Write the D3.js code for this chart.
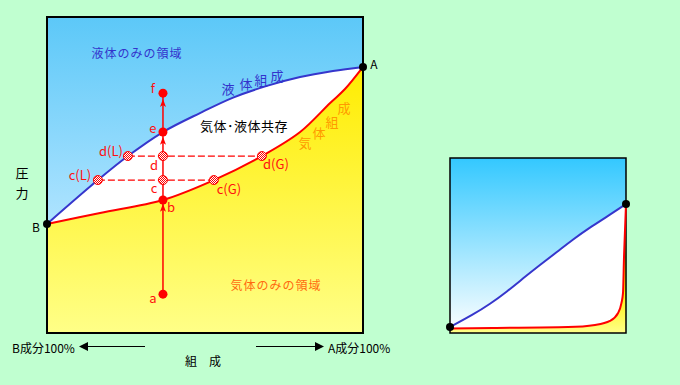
<!DOCTYPE html>
<meta charset="utf-8">
<svg id="chart" width="680" height="385"></svg>
<script src="https://d3js.org/d3.v7.min.js"></script>
<style>
  body { margin: 0; background: #c0ffd0; }
  svg { display: block; font-family: "Noto Sans CJK JP", "Noto Sans", sans-serif; }
</style>
<script>
// composition: 0 = B 100%, 1 = A 100% / pressure: 0 .. 1
var liquidComp = [0, 0.161, 0.256, 0.367, 0.484, 0.589, 0.696, 0.801, 0.905, 1];
var liquidPres = [0.345, 0.484, 0.560, 0.636, 0.696, 0.745, 0.782, 0.810, 0.829, 0.842];
var gasComp = [0, 0.168, 0.367, 0.528, 0.680, 0.801, 0.896, 0.943, 1];
var gasPres = [0.345, 0.380, 0.421, 0.484, 0.560, 0.636, 0.728, 0.772, 0.842];

// vertical compression path a -> f at fixed composition
var pathComp = 0.367;
var pathNames = ["a", "b", "c", "d", "e", "f"];
var pathPres = [0.123, 0.421, 0.484, 0.560, 0.636, 0.759];
var arrowPres = [0.396, 0.608, 0.728];

// tie lines at c and d
var tieNames = ["c", "d"];
var tiePres = [0.484, 0.560];
var tieLiq = [0.161, 0.256];
var tieGas = [0.528, 0.680];

// small chart
var smallLiqComp = [0, 0.131, 0.227, 0.324, 0.415, 0.511, 0.608, 0.699, 0.795, 0.892, 1];
var smallLiqPres = [0.034, 0.105, 0.165, 0.237, 0.312, 0.389, 0.463, 0.535, 0.603, 0.665, 0.737];
var smallGasComp = [0, 0.244, 0.670, 0.824, 0.909, 0.955, 0.974, 0.983, 0.989, 1];
var smallGasPres = [0.026, 0.029, 0.034, 0.046, 0.069, 0.114, 0.171, 0.229, 0.446, 0.737];

var svg = d3.select("#chart");
var defs = svg.append("defs");

function vGrad(id, y1, y2, c1, c2) {
  var g = defs.append("linearGradient").attr("id", id)
    .attr("gradientUnits", "userSpaceOnUse")
    .attr("x1", 0).attr("x2", 0).attr("y1", y1).attr("y2", y2);
  g.append("stop").attr("offset", 0).attr("stop-color", c1);
  g.append("stop").attr("offset", 1).attr("stop-color", c2);
}
vGrad("sky", 17, 226, "#5cc8f8", "#b0e4ff");
vGrad("sun", 67, 333, "#ffec00", "#ffff88");
vGrad("sky2", 158, 333, "#33c8ff", "#ffffff");
vGrad("sun2", 290, 333, "#ffee00", "#ffff88");

var pat = defs.append("pattern").attr("id", "check")
  .attr("patternUnits", "userSpaceOnUse").attr("width", 2).attr("height", 2);
pat.append("rect").attr("width", 2).attr("height", 2).attr("fill", "#fff");
pat.append("rect").attr("width", 1).attr("height", 1).attr("fill", "#ff0000");
pat.append("rect").attr("x", 1).attr("y", 1).attr("width", 1).attr("height", 1).attr("fill", "#ff0000");

// ---------- main chart ----------
var x = d3.scaleLinear().domain([0, 1]).range([47, 363]);
var y = d3.scaleLinear().domain([0, 1]).range([333, 17]);

var liquid = liquidComp.map(function(c, i) { return [c, liquidPres[i]]; });
var gas = gasComp.map(function(c, i) { return [c, gasPres[i]]; });

var g = svg.append("g");
g.append("rect").attr("x", x(0)).attr("y", y(1))
  .attr("width", x(1) - x(0)).attr("height", y(0) - y(1)).attr("fill", "url(#sky)");

var area = d3.area().x(function(d) { return x(d[0]); })
  .y0(y(0)).y1(function(d) { return y(d[1]); }).curve(d3.curveCatmullRom);
var line = d3.line().x(function(d) { return x(d[0]); })
  .y(function(d) { return y(d[1]); }).curve(d3.curveCatmullRom);

g.append("path").attr("d", area(liquid)).attr("fill", "#fff");
g.append("path").attr("d", area(gas)).attr("fill", "url(#sun)");
g.append("rect").attr("x", x(0)).attr("y", y(1))
  .attr("width", x(1) - x(0)).attr("height", y(0) - y(1))
  .attr("fill", "none").attr("stroke", "#000").attr("stroke-width", 2);

g.append("path").attr("d", line(liquid)).attr("fill", "none")
  .attr("stroke", "#3636cc").attr("stroke-width", 2);
g.append("path").attr("d", line(gas)).attr("fill", "none")
  .attr("stroke", "#ff0000").attr("stroke-width", 2);

// tie lines
tieNames.forEach(function(n, i) {
  g.append("line").attr("x1", x(tieLiq[i])).attr("x2", x(tieGas[i]))
    .attr("y1", y(tiePres[i])).attr("y2", y(tiePres[i]))
    .attr("stroke", "#ff0000").attr("stroke-width", 1.2).attr("stroke-dasharray", "7,3");
});

// vertical path
g.append("line").attr("x1", x(pathComp)).attr("x2", x(pathComp))
  .attr("y1", y(pathPres[0])).attr("y2", y(pathPres[pathPres.length - 1]))
  .attr("stroke", "#ff0000").attr("stroke-width", 1.5);
arrowPres.forEach(function(p) {
  g.append("path").attr("d", "M0,-4L3,4L0,2L-3,4Z")
    .attr("transform", "translate(" + x(pathComp) + "," + y(p) + ")")
    .attr("fill", "#ff0000");
});

// markers
var hatched = [];
tieNames.forEach(function(n, i) {
  hatched.push([tieLiq[i], tiePres[i]], [pathComp, tiePres[i]], [tieGas[i], tiePres[i]]);
});
pathNames.forEach(function(n, i) {
  if (tieNames.indexOf(n) < 0) {
    g.append("circle").attr("cx", x(pathComp)).attr("cy", y(pathPres[i]))
      .attr("r", 4.5).attr("fill", "#ff0000");
  }
});
hatched.forEach(function(d) {
  g.append("circle").attr("cx", x(d[0])).attr("cy", y(d[1])).attr("r", 4.5)
    .attr("fill", "url(#check)").attr("stroke", "#ff0000").attr("stroke-width", 1);
});
[liquid[0], liquid[liquid.length - 1]].forEach(function(d) {
  g.append("circle").attr("cx", x(d[0])).attr("cy", y(d[1])).attr("r", 4).attr("fill", "#000");
});

// labels
function label(t, px, py, col, anchor, size, ls) {
  return svg.append("text").attr("x", px).attr("y", py).text(t)
    .attr("fill", col).attr("text-anchor", anchor || "middle")
    .attr("dominant-baseline", "central")
    .style("font-size", (size || 12) + "px")
    .style("letter-spacing", (ls || 0) + "px");
}
var red = "#ff1010";
var px0 = x(pathComp);
label("f", px0 - 10, y(pathPres[5]) - 6, red, "middle", 13);
label("e", px0 - 10, y(pathPres[4]) - 5, red, "middle", 13);
label("d", px0 - 9, y(pathPres[3]) + 8, red, "middle", 13);
label("c", px0 - 9, y(pathPres[2]) + 7, red, "middle", 13);
label("b", px0 + 8, y(pathPres[1]) + 7, red, "middle", 13);
label("a", px0 - 10, y(pathPres[0]) + 3, red, "middle", 13);
label("d(L)", x(tieLiq[1]) - 17, y(tiePres[1]) - 6, red, "middle", 13);
label("c(L)", x(tieLiq[0]) - 18, y(tiePres[0]) - 6, red, "middle", 13);
label("d(G)", x(tieGas[1]) + 14, y(tiePres[1]) + 7, red, "middle", 13);
label("c(G)", x(tieGas[0]) + 15, y(tiePres[0]) + 8, red, "middle", 13);
label("A", x(1) + 11, y(liquidPres[liquidPres.length - 1]) - 3, "#000");
label("B", x(0) - 11, y(liquidPres[0]) + 3, "#000");

label("液体のみの領域", 137, 52, "#3333cc", "middle", 12, 1);
label("気体のみの領域", 276, 284, "#ff6a10", "middle", 12, 1);
label("気体･液体共存", 244, 125, "#000", "middle", 13, 0.5);
[["液", 228, 88], ["体", 246, 83], ["組", 261, 79], ["成", 277, 75]].forEach(function(c) {
  label(c[0], c[1], c[2], "#3333cc", "middle", 13);
});
[["気", 305, 142], ["体", 319, 132], ["組", 332, 121], ["成", 344, 107]].forEach(function(c) {
  label(c[0], c[1], c[2], "#ff9a00", "middle", 13);
});
label("圧", 22, 172, "#000", "middle", 13);
label("力", 22, 192, "#000", "middle", 13);
label("B成分100%", 12, 347, "#000", "start", 12, 0);
label("A成分100%", 328, 347, "#000", "start", 12, 0);
label("組　成", 203, 360, "#000", "middle", 12);

// composition arrows
svg.append("line").attr("x1", 145).attr("x2", 84).attr("y1", 346.5).attr("y2", 346.5)
  .attr("stroke", "#000").attr("stroke-width", 1);
svg.append("path").attr("d", "M79,346.5L88,342L88,351Z").attr("fill", "#000");
svg.append("line").attr("x1", 256).attr("x2", 318).attr("y1", 346.5).attr("y2", 346.5)
  .attr("stroke", "#000").attr("stroke-width", 1);
svg.append("path").attr("d", "M324,346.5L315,342L315,351Z").attr("fill", "#000");

// ---------- small chart ----------
var sx = d3.scaleLinear().domain([0, 1]).range([450, 626]);
var sy = d3.scaleLinear().domain([0, 1]).range([333, 158]);
var sLiq = smallLiqComp.map(function(c, i) { return [c, smallLiqPres[i]]; });
var sGas = smallGasComp.map(function(c, i) { return [c, smallGasPres[i]]; });
var sArea = d3.area().x(function(d) { return sx(d[0]); })
  .y0(sy(0)).y1(function(d) { return sy(d[1]); });
var sLine = d3.line().x(function(d) { return sx(d[0]); })
  .y(function(d) { return sy(d[1]); });

var s = svg.append("g");
s.append("rect").attr("x", sx(0)).attr("y", sy(1))
  .attr("width", sx(1) - sx(0)).attr("height", sy(0) - sy(1)).attr("fill", "url(#sky2)");
s.append("path").attr("d", sArea.curve(d3.curveBasis)(sLiq)).attr("fill", "#fff");
s.append("path").attr("d", sArea.curve(d3.curveMonotoneX)(sGas)).attr("fill", "url(#sun2)");
s.append("rect").attr("x", sx(0)).attr("y", sy(1))
  .attr("width", sx(1) - sx(0)).attr("height", sy(0) - sy(1))
  .attr("fill", "none").attr("stroke", "#000").attr("stroke-width", 1.5);
s.append("path").attr("d", sLine.curve(d3.curveBasis)(sLiq)).attr("fill", "none")
  .attr("stroke", "#3636cc").attr("stroke-width", 2);
s.append("path").attr("d", sLine.curve(d3.curveMonotoneX)(sGas)).attr("fill", "none")
  .attr("stroke", "#ff0000").attr("stroke-width", 2);
[sLiq[0], sLiq[sLiq.length - 1]].forEach(function(d) {
  s.append("circle").attr("cx", sx(d[0])).attr("cy", sy(d[1])).attr("r", 4).attr("fill", "#000");
});
</script>
